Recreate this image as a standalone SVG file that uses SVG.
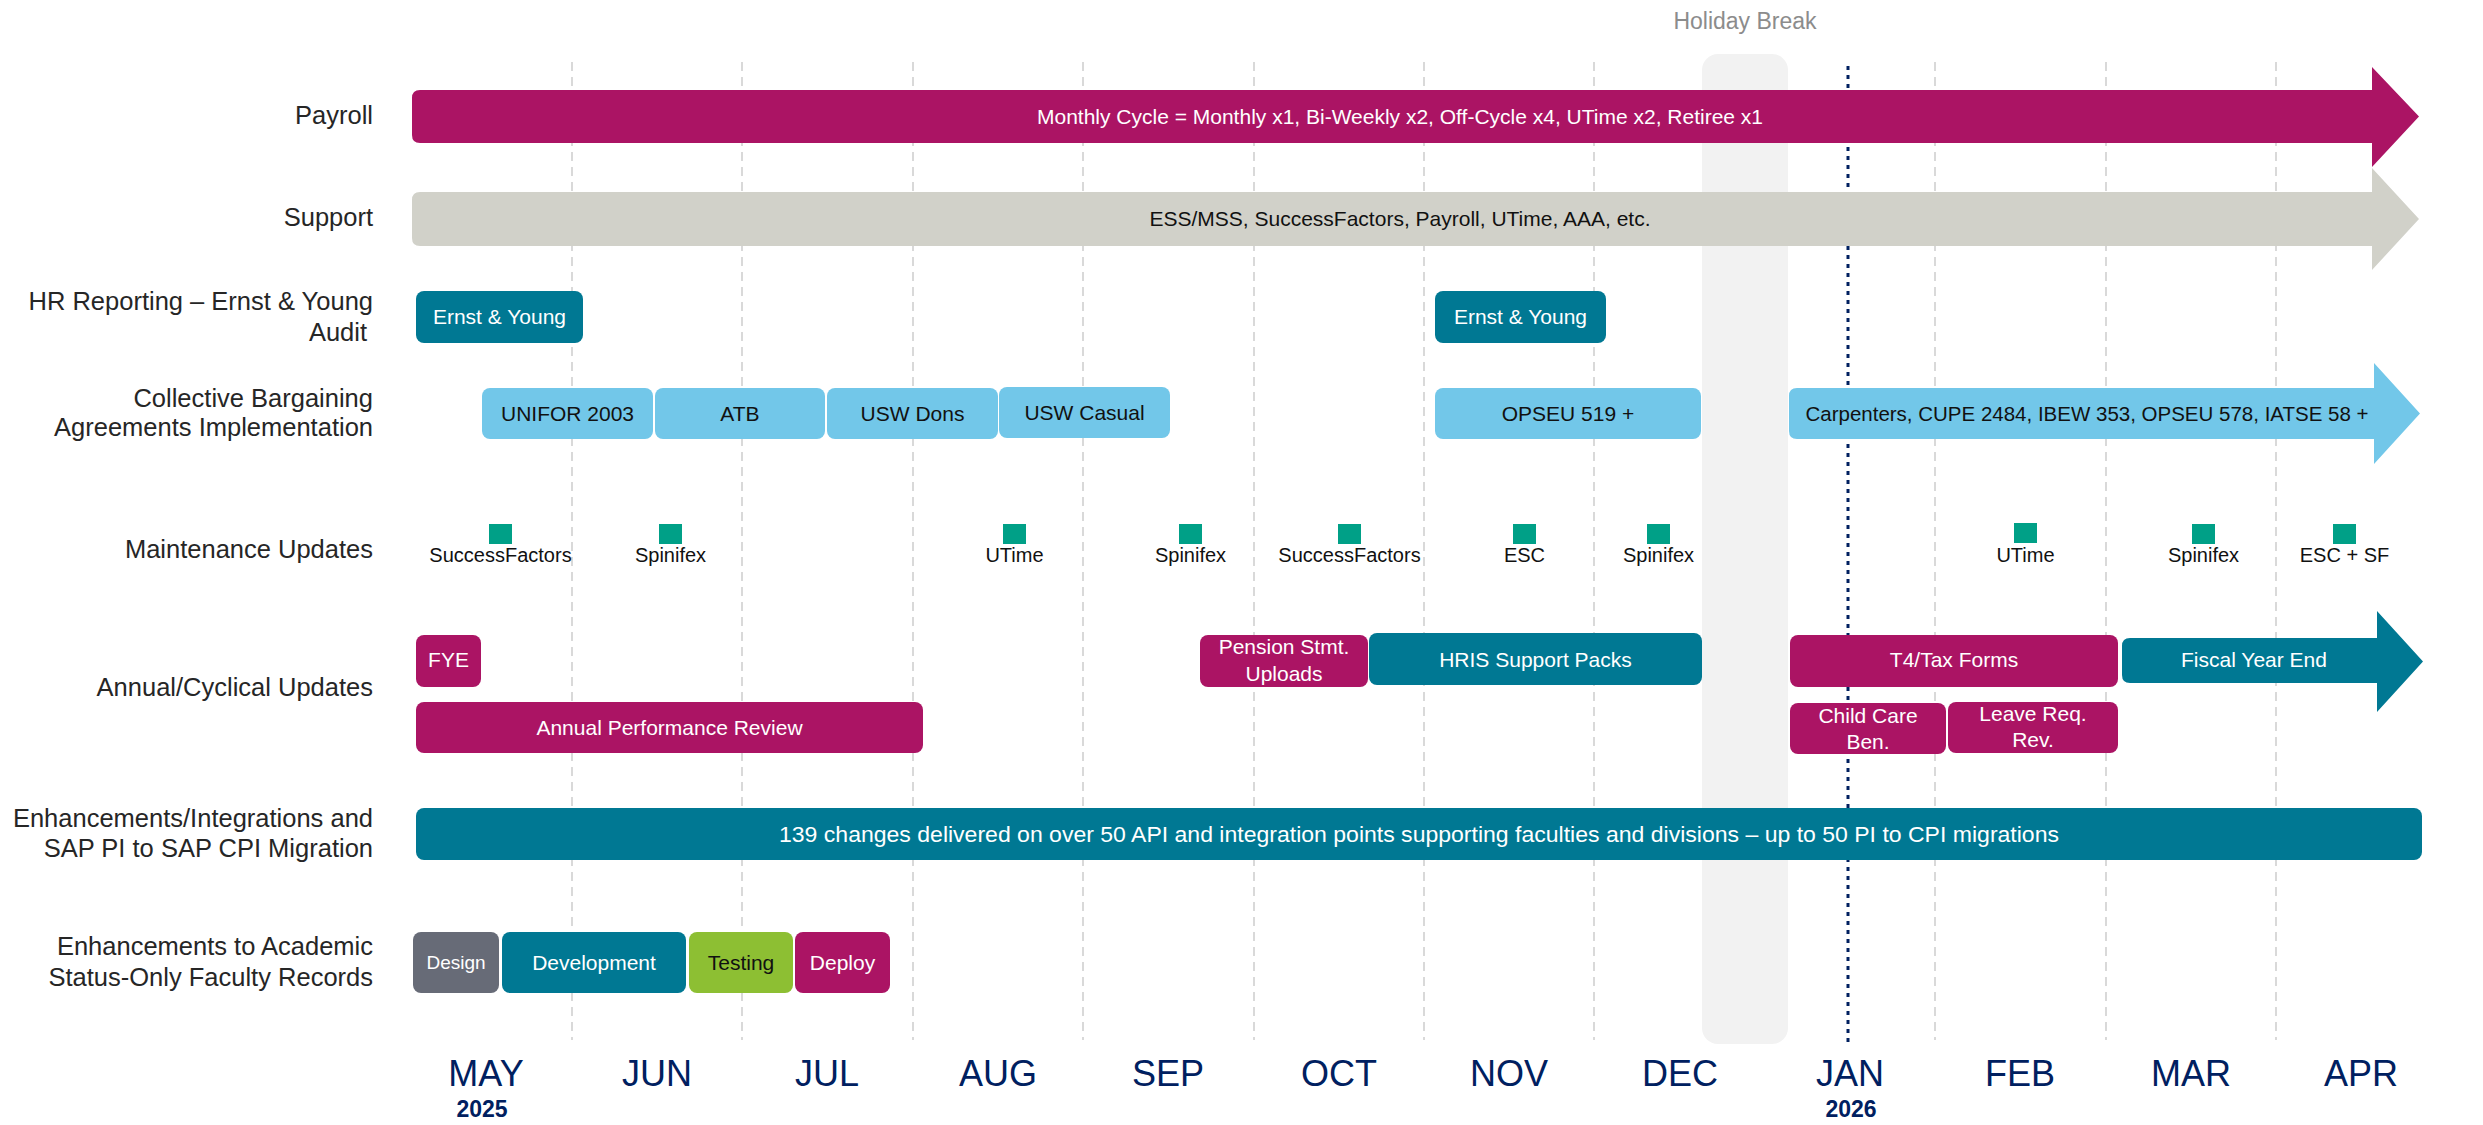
<svg xmlns="http://www.w3.org/2000/svg" width="2483" height="1125" viewBox="0 0 2483 1125">
<style>
text{font-family:"Liberation Sans",Arial,sans-serif}
.lbl{font-size:25.5px;fill:#262626;text-anchor:end}
.bt{font-size:21px;fill:#ffffff;text-anchor:middle}
.bd{font-size:21px;fill:#111111;text-anchor:middle}
.ms{font-size:20px;fill:#111111;text-anchor:middle}
.mon{font-size:36px;fill:#002060;text-anchor:middle}
.yr{font-size:23px;fill:#002060;text-anchor:middle;font-weight:bold}
.mag{fill:#ab1464}
.teal{fill:#007893}
.lb{fill:#72c7e9}
.sq{fill:#00a087}
.grid{stroke:#d9d9d9;stroke-width:2;stroke-dasharray:9 6;fill:none}
</style>
<rect width="2483" height="1125" fill="#ffffff"/>

<g id="holiday-break">
<rect x="1702" y="54" width="86" height="990" rx="16" fill="#f2f2f2"/>
<text x="1745" y="29" style="font-size:23px;fill:#8c8c8c;text-anchor:middle">Holiday Break</text>
</g>

<g id="connectors">
<line class="grid" x1="572" y1="62" x2="572" y2="1040"/>
<line class="grid" x1="742" y1="62" x2="742" y2="1040"/>
<line class="grid" x1="913" y1="62" x2="913" y2="1040"/>
<line class="grid" x1="1083" y1="62" x2="1083" y2="1040"/>
<line class="grid" x1="1254" y1="62" x2="1254" y2="1040"/>
<line class="grid" x1="1424" y1="62" x2="1424" y2="1040"/>
<line class="grid" x1="1594" y1="62" x2="1594" y2="1040"/>
<line class="grid" x1="1935" y1="62" x2="1935" y2="1040"/>
<line class="grid" x1="2106" y1="62" x2="2106" y2="1040"/>
<line class="grid" x1="2276" y1="62" x2="2276" y2="1040"/>
<line x1="1848" y1="66" x2="1848" y2="1044" stroke="#002060" stroke-width="3" stroke-dasharray="4 5"/>
</g>

<g id="lane-labels">
<text class="lbl" x="373" y="124">Payroll</text>
<text class="lbl" x="373" y="226">Support</text>
<text class="lbl" x="373" y="310">HR Reporting – Ernst &amp; Young</text>
<text class="lbl" x="367" y="341">Audit</text>
<text class="lbl" x="373" y="407">Collective Bargaining</text>
<text class="lbl" x="373" y="436">Agreements Implementation</text>
<text class="lbl" x="373" y="558">Maintenance Updates</text>
<text class="lbl" x="373" y="696">Annual/Cyclical Updates</text>
<text class="lbl" x="373" y="827">Enhancements/Integrations and</text>
<text class="lbl" x="373" y="857">SAP PI to SAP CPI Migration</text>
<text class="lbl" x="373" y="955">Enhancements to Academic</text>
<text class="lbl" x="373" y="986">Status-Only Faculty Records</text>
</g>

<g id="payroll">
<path class="mag" d="M420 90H2372V67L2419 116.5L2372 167V143H420Q412 143 412 135V98Q412 90 420 90Z"/>
<text class="bt" x="1400" y="124">Monthly Cycle = Monthly x1, Bi-Weekly x2, Off-Cycle x4, UTime x2, Retiree x1</text>
</g>

<g id="support">
<path fill="#d1d1c9" d="M420 192H2372V168L2419 219L2372 270V246H420Q412 246 412 238V200Q412 192 420 192Z"/>
<text class="bd" x="1400" y="226">ESS/MSS, SuccessFactors, Payroll, UTime, AAA, etc.</text>
</g>

<g id="hr-reporting">
<rect class="teal" x="416" y="291" width="167" height="52" rx="8"/>
<text class="bt" x="499.5" y="324">Ernst &amp; Young</text>
<rect class="teal" x="1435" y="291" width="171" height="52" rx="8"/>
<text class="bt" x="1520.5" y="324">Ernst &amp; Young</text>
</g>

<g id="collective-bargaining">
<rect class="lb" x="482" y="388" width="171" height="51" rx="8"/>
<text class="bd" x="567.5" y="421">UNIFOR 2003</text>
<rect class="lb" x="655" y="388" width="170" height="51" rx="8"/>
<text class="bd" x="740" y="421">ATB</text>
<rect class="lb" x="827" y="388" width="171" height="51" rx="8"/>
<text class="bd" x="912.5" y="421">USW Dons</text>
<rect class="lb" x="999" y="387" width="171" height="51" rx="8"/>
<text class="bd" x="1084.5" y="420">USW Casual</text>
<rect class="lb" x="1435" y="388" width="266" height="51" rx="8"/>
<text class="bd" x="1568" y="421">OPSEU 519 +</text>
<path class="lb" d="M1797 388H2374V363L2420 413.5L2374 464V439H1797Q1789 439 1789 431V396Q1789 388 1797 388Z"/>
<text class="bd" x="2087" y="421" style="font-size:20.5px">Carpenters, CUPE 2484, IBEW 353, OPSEU 578, IATSE 58 +</text>
</g>

<g id="maintenance-updates">
<rect class="sq" x="489" y="524" width="23" height="20"/>
<text class="ms" x="500.5" y="562">SuccessFactors</text>
<rect class="sq" x="659" y="524" width="23" height="20"/>
<text class="ms" x="670.5" y="562">Spinifex</text>
<rect class="sq" x="1003" y="524" width="23" height="20"/>
<text class="ms" x="1014.5" y="562">UTime</text>
<rect class="sq" x="1179" y="524" width="23" height="20"/>
<text class="ms" x="1190.5" y="562">Spinifex</text>
<rect class="sq" x="1338" y="524" width="23" height="20"/>
<text class="ms" x="1349.5" y="562">SuccessFactors</text>
<rect class="sq" x="1513" y="524" width="23" height="20"/>
<text class="ms" x="1524.5" y="562">ESC</text>
<rect class="sq" x="1647" y="524" width="23" height="20"/>
<text class="ms" x="1658.5" y="562">Spinifex</text>
<rect class="sq" x="2014" y="523" width="23" height="20"/>
<text class="ms" x="2025.5" y="562">UTime</text>
<rect class="sq" x="2192" y="524" width="23" height="20"/>
<text class="ms" x="2203.5" y="562">Spinifex</text>
<rect class="sq" x="2333" y="524" width="23" height="20"/>
<text class="ms" x="2344.5" y="562">ESC + SF</text>
</g>

<g id="annual-cyclical">
<rect class="mag" x="416" y="635" width="65" height="52" rx="8"/>
<text class="bt" x="448.5" y="667">FYE</text>
<rect class="mag" x="416" y="702" width="507" height="51" rx="8"/>
<text class="bt" x="669.5" y="735">Annual Performance Review</text>
<rect class="mag" x="1200" y="635" width="168" height="52" rx="8"/>
<text class="bt" x="1284" y="654">Pension Stmt.</text>
<text class="bt" x="1284" y="681">Uploads</text>
<rect class="teal" x="1369" y="633" width="333" height="52" rx="8"/>
<text class="bt" x="1535.5" y="667">HRIS Support Packs</text>
<rect class="mag" x="1790" y="635" width="328" height="52" rx="8"/>
<text class="bt" x="1954" y="667">T4/Tax Forms</text>
<path class="teal" d="M2130 638H2377V611L2423 661.5L2377 712V683H2130Q2122 683 2122 675V646Q2122 638 2130 638Z"/>
<text class="bt" x="2254" y="667">Fiscal Year End</text>
<rect class="mag" x="1790" y="703" width="156" height="51" rx="8"/>
<text class="bt" x="1868" y="723">Child Care</text>
<text class="bt" x="1868" y="749">Ben.</text>
<rect class="mag" x="1948" y="702" width="170" height="51" rx="8"/>
<text class="bt" x="2033" y="721">Leave Req.</text>
<text class="bt" x="2033" y="747">Rev.</text>
</g>

<g id="enhancements-integrations">
<rect class="teal" x="416" y="808" width="2006" height="52" rx="8"/>
<text class="bt" x="1419" y="842" style="font-size:22px" textLength="1280" lengthAdjust="spacingAndGlyphs">139 changes delivered on over 50 API and integration points supporting faculties and divisions – up to 50 PI  to CPI migrations</text>
</g>

<g id="academic-records">
<rect fill="#676b77" x="413" y="932" width="86" height="61" rx="8"/>
<text class="bt" x="456" y="969" style="font-size:19px">Design</text>
<rect class="teal" x="502" y="932" width="184" height="61" rx="8"/>
<text class="bt" x="594" y="970">Development</text>
<rect fill="#8dbf33" x="689" y="932" width="104" height="61" rx="8"/>
<text class="bd" x="741" y="970">Testing</text>
<rect class="mag" x="795" y="932" width="95" height="61" rx="8"/>
<text class="bt" x="842.5" y="970">Deploy</text>
</g>

<g id="months">
<text class="mon" x="486" y="1086">MAY</text>
<text class="mon" x="657" y="1086">JUN</text>
<text class="mon" x="827" y="1086">JUL</text>
<text class="mon" x="998" y="1086">AUG</text>
<text class="mon" x="1168" y="1086">SEP</text>
<text class="mon" x="1339" y="1086">OCT</text>
<text class="mon" x="1509" y="1086">NOV</text>
<text class="mon" x="1680" y="1086">DEC</text>
<text class="mon" x="1850" y="1086">JAN</text>
<text class="mon" x="2020" y="1086">FEB</text>
<text class="mon" x="2191" y="1086">MAR</text>
<text class="mon" x="2361" y="1086">APR</text>
<text class="yr" x="482" y="1117">2025</text>
<text class="yr" x="1851" y="1117">2026</text>
</g>
</svg>
